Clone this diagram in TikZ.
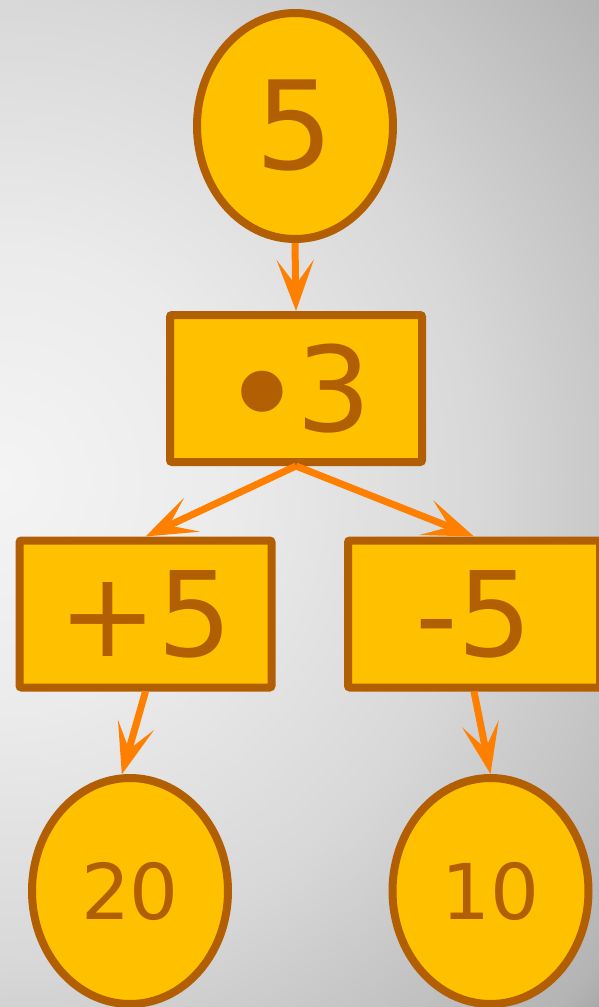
\documentclass[tikz,border=0pt]{standalone}
\usepackage{fontspec}
\setmainfont{DejaVu Sans}
\usetikzlibrary{arrows.meta,shapes.geometric}
\definecolor{fillc}{HTML}{FFC000}
\definecolor{edgec}{HTML}{B25F03}
\definecolor{arrc}{HTML}{FF8000}
\definecolor{bgA}{HTML}{F4F4F4}
\definecolor{bgAB}{HTML}{EBEBEB}
\definecolor{bgB}{HTML}{D8D8D8}
\definecolor{bgBC}{HTML}{B4B4B4}
\definecolor{bgC}{HTML}{A8A8A8}
\pgfdeclareradialshading{bgshade}{\pgfpoint{0bp}{0bp}}{color(0bp)=(bgA); color(5.75bp)=(bgAB); color(12bp)=(bgB); color(19.2bp)=(bgBC); color(20bp)=(bgC); color(25bp)=(bgC); color(50bp)=(bgC)}
\tikzset{
  ellnode/.style={ellipse, draw=edgec, fill=fillc, line width=8pt, minimum width=196pt, minimum height=226pt, inner sep=0pt, text=edgec},
  boxnode/.style={rectangle, rounded corners=2pt, draw=edgec, fill=fillc, line width=8pt, minimum width=252pt, minimum height=147pt, inner sep=0pt, text=edgec, font=\fontsize{118}{118}\selectfont},
  conn/.style={draw=arrc, line width=7pt, -{Stealth[length=51pt,width=37pt,inset=25pt]}}
}
\begin{document}
\begin{tikzpicture}[x=1pt,y=-1pt]
\useasboundingbox (0,0) rectangle (599,1007);
\begin{scope}
\clip (0,0) rectangle (599,1007);
\shade[shading=bgshade] (0,480) circle[radius=1000pt];
\end{scope}
\node[ellnode, font=\fontsize{123}{123}\selectfont] (n5) at (295,126) {5};
\node[boxnode] (m3) at (296,388.5) {\raisebox{-13pt}[0pt][0pt]{\fontsize{142}{118}\selectfont •}\kern-8pt 3};
\node[boxnode] (p5) at (145.5,614) {+5};
\node[boxnode] (s5) at (474,614) {-5};
\node[ellnode, font=\fontsize{77}{77}\selectfont] (n20) at (130,891) {20};
\node[ellnode, font=\fontsize{77}{77}\selectfont] (n10) at (490.5,891) {10};
\draw[conn] (n5.south) -- (m3.north);
\draw[conn] (m3.south) -- (p5.north);
\draw[conn] (m3.south) -- (s5.north);
\draw[conn] (p5.south) -- (n20.94);
\draw[conn] (s5.south) -- (n10.north);
\end{tikzpicture}
\end{document}
